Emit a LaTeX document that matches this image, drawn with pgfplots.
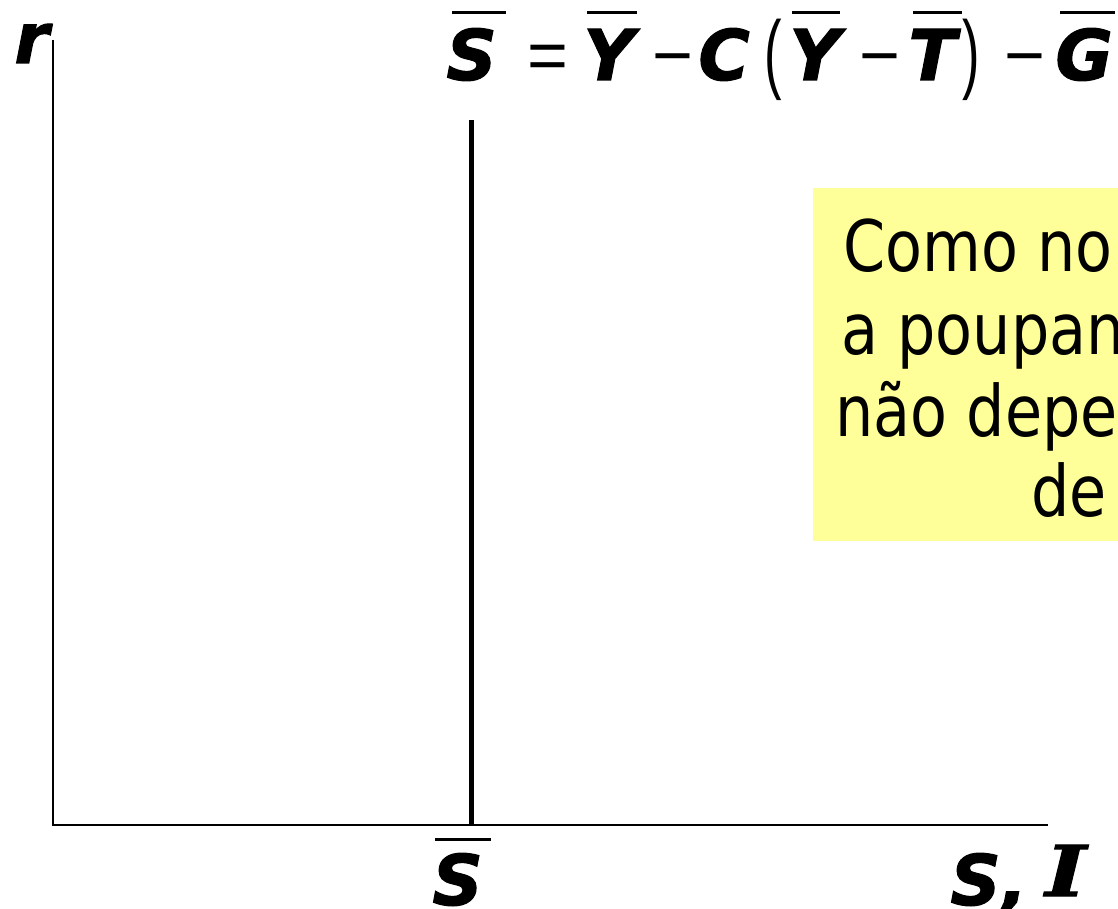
\documentclass[border=0pt]{standalone}
\usepackage{fontspec}
\usepackage{graphicx}
\usepackage{pgfplots}
\pgfplotsset{compat=1.18}
\setmainfont{DejaVu Sans}[BoldItalicFeatures={FakeBold=1.5}]
\newfontfamily\boxfont{DejaVu Sans}[FakeStretch=0.85]
\newfontfamily\opfont{Liberation Sans}
\newfontfamily\serifI{DejaVu Serif}[BoldItalicFeatures={FakeBold=1.5}]
\definecolor{boxyellow}{HTML}{FFFF99}
\newcommand{\eqsize}{\fontsize{35bp}{40bp}\selectfont}
\begin{document}
\begin{tikzpicture}
\useasboundingbox (0,0) rectangle (559bp,454.5bp);
\begin{axis}[
  at={(0,0)}, anchor=origin,
  scale only axis, width=559bp, height=454.5bp,
  xmin=0, xmax=1118, ymin=0, ymax=909,
  hide axis, clip=false,
]
% yellow note box
\fill[boxyellow] (axis cs:813,368) rectangle (axis cs:1140,721);
\begin{scope}[every node/.style={anchor=base west, inner sep=0pt, font=\boxfont\fontsize{35.5bp}{40bp}\selectfont}]
\node at (axis cs:843,637) {Como no modelo};
\node at (axis cs:841,554) {a poupança};
\node at (axis cs:835,472) {não depende};
\node at (axis cs:1031,392) {de r};
\end{scope}
% axes
\addplot[black, line width=1bp] coordinates {(53,869) (53,84) (1048,84)};
% savings line
\addplot[black, line width=2.5bp] coordinates {(471,789) (471,84)};
% axis labels
\begin{scope}[every node/.style={anchor=base west, inner sep=0pt, font=\eqsize\bfseries\itshape}]
\node at (axis cs:14,846) {r};
\node at (axis cs:432,4) {S};
\node at (axis cs:950,4) {S,};
\node[font=\eqsize\serifI\bfseries\itshape] at (axis cs:1045,13) {\scalebox{1.25}[1]{I}};
% equation
\node at (axis cs:446,829) {S};
\node at (axis cs:583,829) {Y};
\node at (axis cs:698,829) {C};
\node at (axis cs:789,829) {Y};
\node at (axis cs:908,829) {T};
\node at (axis cs:1055,829) {G};
\end{scope}
\begin{scope}[every node/.style={anchor=base west, inner sep=0pt, font=\eqsize\opfont}]
\node at (axis cs:527,829) {=};
\node at (axis cs:652,829) {−};
\node at (axis cs:859,829) {−};
\node at (axis cs:1004,829) {−};
\node at (axis cs:764,826) {\scalebox{0.75}[1.25]{(}};
\node at (axis cs:962,826) {\scalebox{0.75}[1.25]{)}};
\end{scope}
% overbars
\begin{scope}[line width=1.5bp]
\draw (axis cs:452,896) -- (axis cs:506,896);
\draw (axis cs:587,896) -- (axis cs:637,896);
\draw (axis cs:792,896) -- (axis cs:840,896);
\draw (axis cs:913,896) -- (axis cs:962,896);
\draw (axis cs:1060,896) -- (axis cs:1115,896);
\draw (axis cs:435,69) -- (axis cs:491,69);
\end{scope}
\end{axis}
\end{tikzpicture}
\end{document}
